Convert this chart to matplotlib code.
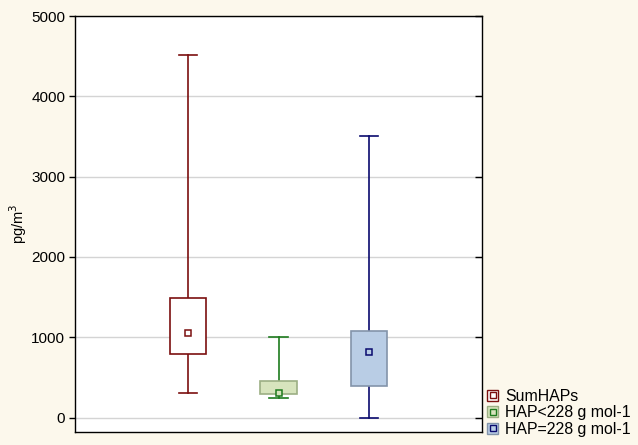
import matplotlib
matplotlib.use("Agg")
import matplotlib.pyplot as plt
from matplotlib.patches import Patch
from matplotlib.lines import Line2D

plt.rcParams['font.family'] = ['Liberation Sans', 'DejaVu Sans']

series = ["SumHAPs", "HAP<228 g mol-1", "HAP=228 g mol-1"]
means = [1050, 300, 815]
box_low = [790, 290, 390]
box_high = [1490, 450, 1080]
whisk_low = [300, 240, 0]
whisk_high = [4510, 1000, 3500]
yticks = [0, 1000, 2000, 3000, 4000, 5000]
ylabel = "pg/m$^3$"

line_colors = ["#7B0F0F", "#1E7B1E", "#0A0A6E"]
box_fill = ["#FFFFFF", "#D7E4BD", "#B9CDE5"]
box_edge = ["#7B0F0F", "#9CAF84", "#8394AA"]
bg = "#FCF8EC"

fig = plt.figure(figsize=(6.38, 4.45), dpi=100, facecolor=bg)
rect = [75/638, 1-432/445, 407/638, 416/445]
ax = fig.add_axes(rect)
ax.set_facecolor("white")

stats = []
for i in range(len(series)):
    stats.append(dict(med=means[i], q1=box_low[i], q3=box_high[i],
                      whislo=whisk_low[i], whishi=whisk_high[i], mean=means[i],
                      label=series[i], fliers=[]))
pos = list(range(1, len(series) + 1))
res = ax.bxp(stats, positions=pos, widths=0.4, capwidths=0.2, showmeans=True,
             patch_artist=True, showfliers=False,
             medianprops=dict(visible=False))
for i in range(len(series)):
    b = res['boxes'][i]
    b.set_facecolor(box_fill[i]); b.set_edgecolor(box_edge[i]); b.set_linewidth(1.2)
    b.set_zorder(3)
    for w in res['whiskers'][2*i:2*i+2]:
        w.set_color(line_colors[i]); w.set_linewidth(1.2)
    for c in res['caps'][2*i:2*i+2]:
        c.set_color(line_colors[i]); c.set_linewidth(1.2)
    m = res['means'][i]
    m.set_marker('s'); m.set_markersize(5); m.set_markerfacecolor(box_fill[i])
    m.set_markeredgecolor(line_colors[i]); m.set_markeredgewidth(1.1); m.set_zorder(4)

ax.set_xlim(-0.25, 4.25)
ax.set_ylim(-180, 5000)
ax.set_xticks([])
ax.set_yticks(yticks)
ax.tick_params(axis='y', direction='out', length=4, width=1, labelsize=11, pad=3, colors='black')
ax.yaxis.grid(True, color="#D4D4D4", linewidth=1)
ax.set_axisbelow(True)
for s in ax.spines.values():
    s.set_color('black'); s.set_linewidth(1)

ax2 = fig.add_axes(rect, sharey=ax)
ax2.patch.set_visible(False)
ax2.set_xticks([])
ax2.yaxis.tick_right()
ax2.tick_params(axis='y', direction='in', length=5, width=1, labelright=False, labelleft=False, colors='black')
for s in ax2.spines.values():
    s.set_visible(False)

fig.text(18/638, 1-224/445, ylabel, rotation=90, ha='center', va='center', fontsize=10.5)

handles = []
for i in range(len(series)):
    p = Patch(facecolor=box_fill[i], edgecolor=box_edge[i] if i else line_colors[i], linewidth=1)
    mk = Line2D([], [], linestyle='none', marker='s', markersize=4.5,
                markerfacecolor=box_fill[i], markeredgecolor=line_colors[i], markeredgewidth=1)
    handles.append((p, mk))
fig.legend(handles, series, loc='lower left', bbox_to_anchor=(487/638, 8/445),
           frameon=False, fontsize=11.4, handlelength=0.7, handleheight=0.7,
           handletextpad=0.45, labelspacing=0.1, borderpad=0, borderaxespad=0)

fig.savefig("out.png", dpi=100, facecolor=bg)
